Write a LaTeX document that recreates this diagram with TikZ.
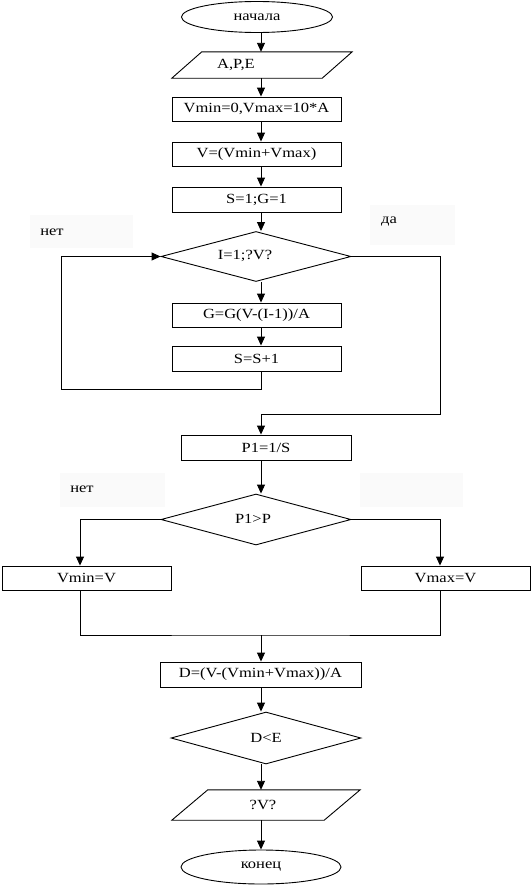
\documentclass[tikz,border=0pt]{standalone}
\usepackage{fontspec}
\setmainfont{Liberation Serif}[FakeStretch=1.18]
\usetikzlibrary{arrows.meta,shapes.geometric,calc}
\begin{document}
\begin{tikzpicture}[x=1pt,y=-1pt,
  every node/.style={font=\fontsize{14pt}{16pt}\selectfont,inner sep=0pt},
  line/.style={line width=0.9pt,black},
  arr/.style={line,-{Triangle[length=9pt,width=8pt]}},
  procbox/.style={draw,line,rectangle,minimum height=24pt},
  decide/.style={draw,line,diamond,aspect=3},
  term/.style={draw,line,ellipse},
  iobox/.style={rectangle},
  faint/.style={fill=black!2,draw=none}
]
\useasboundingbox (0,0) rectangle (531,886);
\fill[white] (0,0) rectangle (531,886);

% faint label backgrounds
\fill[faint] (30,215) rectangle (133,248);
\fill[faint] (370,205) rectangle (455,245);
\fill[faint] (60,473) rectangle (165,507);
\fill[faint] (360,473) rectangle (463,507);

\coordinate (spine) at (261,0);
\coordinate (lx) at (80,0);
\coordinate (rx) at (440,0);

\node[term,minimum width=151pt,minimum height=31pt] (start) at (257,17) {начала};

\node[iobox,minimum width=180pt,minimum height=26pt] (io1) at (262,65) {};
\draw[line] (io1.south west) -- ($(io1.north west)+(30,0)$) -- (io1.north east) -- ($(io1.south east)+(-30,0)$) -- cycle;
\node (io1t) at (236,65) {A,P,E};

\node[procbox,minimum width=169pt] (b1) at (256.5,109) {Vmin=0,Vmax=10*A};
\node[procbox,minimum width=169pt] (b2) at (256.5,154) {V=(Vmin+Vmax)};
\node[procbox,minimum width=169pt,minimum height=25pt] (b3) at (256.5,199.5) {S=1;G=1};
\node[decide,minimum width=190pt,minimum height=50pt] (d1) at (256,256.5) {};
\node (d1t) at (245,256) {I=1;?V?};
\node[procbox,minimum width=169pt] (b4) at (256.5,315) {G=G(V-(I-1))/A};
\node[procbox,minimum width=169pt,minimum height=25pt] (b5) at (256.5,358.5) {S=S+1};
\node[procbox,minimum width=170pt,minimum height=25pt] (b6) at (266,447.5) {P1=1/S};
\node[decide,minimum width=190pt,minimum height=51pt] (d2) at (256,519.5) {};
\node (d2t) at (253,519) {P1>P};
\node[procbox,minimum width=169pt] (b7) at (86.5,578) {Vmin=V};
\node[procbox,minimum width=169pt] (b8) at (445.5,578) {Vmax=V};
\node[procbox,minimum width=201pt,minimum height=25pt] (b9) at (260.5,674.5) {D=(V-(Vmin+Vmax))/A};
\node[decide,minimum width=190pt,minimum height=52pt] (d3) at (266,738) {D<E};

\node[iobox,minimum width=188pt,minimum height=30pt] (io2) at (266,805) {};
\draw[line] (io2.south west) -- ($(io2.north west)+(36,0)$) -- (io2.north east) -- ($(io2.south east)+(-36,0)$) -- cycle;
\node (io2t) at (263,805) {?V?};

\node[term,minimum width=160pt,minimum height=34pt] (end) at (261,867) {конец};

% labels
\node (no1) at (52,232) {нет};
\node (yes1) at (389,222) {да};
\node (no2) at (82,489) {нет};

% connectors
\draw[arr] (start.south -| spine) -- (io1.north -| spine);
\draw[arr] (io1.south -| spine) -- (b1.north -| spine);
\draw[arr] (b1.south -| spine) -- (b2.north -| spine);
\draw[arr] (b2.south -| spine) -- (b3.north -| spine);
\draw[arr] (b3.south -| spine) -- (d1.north -| spine);
\draw[arr] (d1.south -| spine) -- (b4.north -| spine);
\draw[arr] (b4.south -| spine) -- (b5.north -| spine);

\coordinate (lp) at (61,389);
\draw[arr] (b5.south -| spine) |- (lp) |- (d1.west);

\coordinate (rp) at (440,414);
\draw[arr] (d1.east) -| (rp) -| (b6.north -| spine);

\draw[arr] (b6.south -| spine) -- (d2.north -| spine);
\draw[arr] (d2.west) -| (b7.north -| lx);
\draw[arr] (d2.east) -| (b8.north -| rx);

\coordinate (mg) at (261,635);
\draw[line] (b7.south -| lx) |- (mg) -| (b8.south -| rx);
\draw[arr] (mg) -- (b9.north -| spine);
\draw[arr] (b9.south -| spine) -- (d3.north -| spine);
\draw[arr] (d3.south -| spine) -- (io2.north -| spine);
\draw[arr] (io2.south -| spine) -- (end.north -| spine);
\end{tikzpicture}
\end{document}
